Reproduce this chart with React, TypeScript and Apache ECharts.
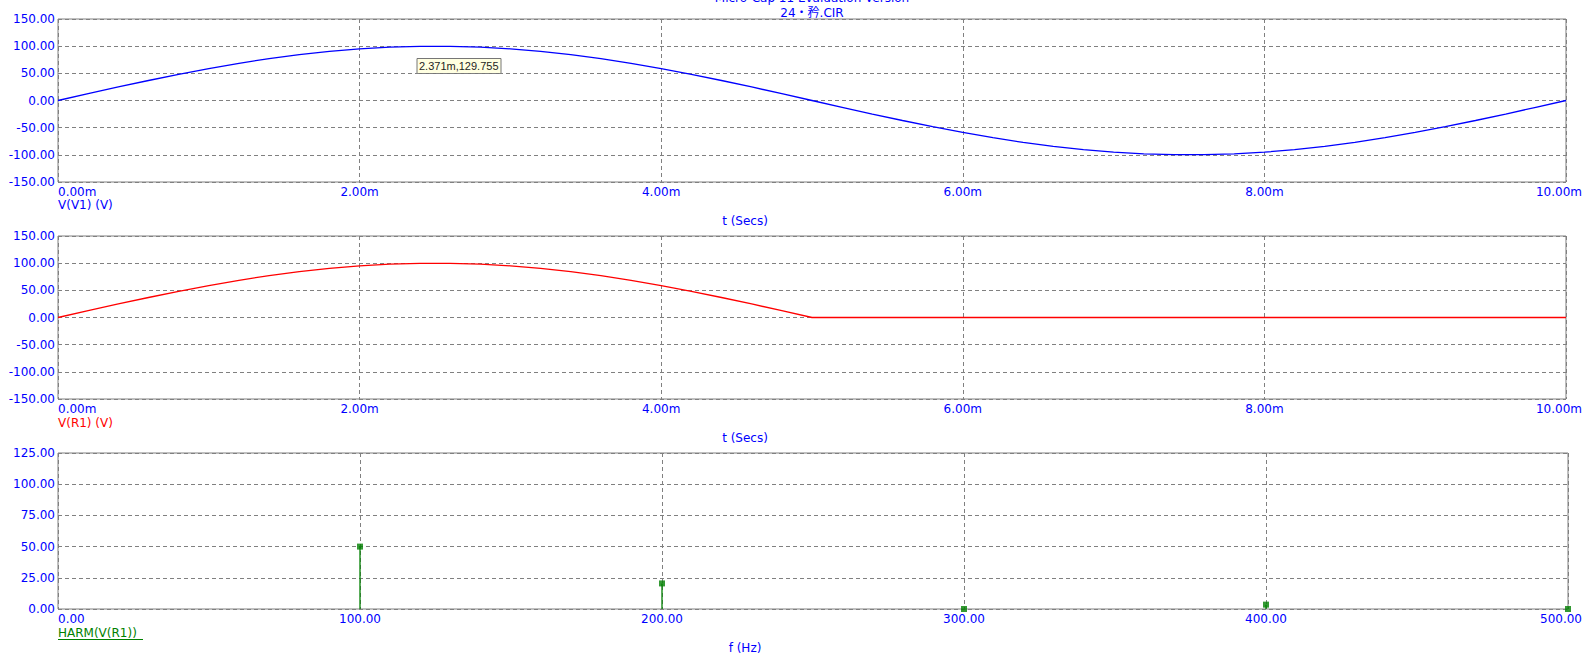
import React, { useEffect, useRef } from "react";
import * as echarts from "echarts";

// Time axis samples (ms)
const tMs = [
  0, 0.2, 0.4, 0.6, 0.8, 1.0, 1.2, 1.4, 1.6, 1.8, 2.0, 2.2, 2.4, 2.6, 2.8, 3.0, 3.2, 3.4, 3.6, 3.8,
  4.0, 4.2, 4.4, 4.6, 4.8, 5.0, 5.2, 5.4, 5.6, 5.8, 6.0, 6.2, 6.4, 6.6, 6.8, 7.0, 7.2, 7.4, 7.6, 7.8,
  8.0, 8.2, 8.4, 8.6, 8.8, 9.0, 9.2, 9.4, 9.6, 9.8, 10.0,
];

// V(V1) (V)
const vV1 = [
  0, 12.5, 24.9, 36.8, 48.2, 58.8, 68.5, 77.1, 84.4, 90.5, 95.1, 98.2, 99.8, 99.8, 98.2, 95.1, 90.5,
  84.4, 77.1, 68.5, 58.8, 48.2, 36.8, 24.9, 12.5, 0, -12.5, -24.9, -36.8, -48.2, -58.8, -68.5, -77.1,
  -84.4, -90.5, -95.1, -98.2, -99.8, -99.8, -98.2, -95.1, -90.5, -84.4, -77.1, -68.5, -58.8, -48.2,
  -36.8, -24.9, -12.5, 0,
];

// V(R1) (V)
const vR1 = [
  0, 12.5, 24.9, 36.8, 48.2, 58.8, 68.5, 77.1, 84.4, 90.5, 95.1, 98.2, 99.8, 99.8, 98.2, 95.1, 90.5,
  84.4, 77.1, 68.5, 58.8, 48.2, 36.8, 24.9, 12.5, 0, 0, 0, 0, 0, 0, 0, 0, 0, 0, 0, 0, 0, 0, 0, 0, 0,
  0, 0, 0, 0, 0, 0, 0, 0, 0,
];

// HARM(V(R1))
const harmFreq = [100, 200, 300, 400, 500];
const harmAmp = [50, 20.5, 0, 3.5, 0];

const timeTicks = { min: 0, max: 10, interval: 2 };
const voltTicks = { min: -150, max: 150, interval: 50 };
const freqTicks = { min: 0, max: 500, interval: 100 };
const harmTicks = { min: 0, max: 125, interval: 25 };

const BLUE = "#0000FF";
const RED = "#FF0000";
const GREEN = "#008000";
const GRAY = "#808080";
const FONT = "DejaVu Sans";

export default function App() {
  const ref = useRef<HTMLDivElement>(null);

  useEffect(() => {
    if (!ref.current) return;
    const chart = echarts.init(ref.current, null, { renderer: "svg" });

    const splitLine = { show: true, lineStyle: { color: GRAY, type: [4, 3] as any, width: 1 } };
    const yLabel = {
      color: BLUE,
      fontFamily: FONT,
      fontSize: 12,
      margin: 3,
      formatter: (v: number) => v.toFixed(2),
    };
    const xLabel = (suffix: string, maxV: number) => ({
      color: BLUE,
      fontFamily: FONT,
      fontSize: 12,
      margin: 4,
      alignMinLabel: "left",
      alignMaxLabel: "center",
      formatter: (v: number) =>
        v === maxV ? `{e|${v.toFixed(2)}${suffix}}` : `${v.toFixed(2)}${suffix}`,
      rich: {
        e: { color: BLUE, fontFamily: FONT, fontSize: 12, padding: [0, 14, 0, 0] },
      },
    });

    const grids = [
      { left: 58, top: 19, width: 1510, height: 163 },
      { left: 58, top: 236, width: 1510, height: 163 },
      { left: 58, top: 453, width: 1510, height: 156 },
    ].map((g) => ({ ...g, show: true, borderColor: GRAY, borderWidth: 1, backgroundColor: "transparent" }));

    const mkX = (gridIndex: number, t: any, suffix: string) => ({
      type: "value",
      gridIndex,
      ...t,
      axisLine: { show: false },
      axisTick: { show: false },
      splitLine,
      axisLabel: xLabel(suffix, t.max),
    });
    const mkY = (gridIndex: number, t: any) => ({
      type: "value",
      gridIndex,
      ...t,
      axisLine: { show: false },
      axisTick: { show: false },
      splitLine,
      axisLabel: yLabel,
    });

    const txt = (text: string, x: number, y: number, fill: string, align = "left") => ({
      type: "text",
      x,
      y,
      silent: true,
      style: {
        text,
        fill,
        font: `12px "${FONT}", "Noto Sans CJK JP"`,
        align,
        verticalAlign: "middle",
      },
    });

    chart.setOption({
      animation: false,
      backgroundColor: "#FFFFFF",
      grid: grids,
      xAxis: [mkX(0, timeTicks, "m"), mkX(1, timeTicks, "m"), mkX(2, freqTicks, "")],
      yAxis: [mkY(0, voltTicks), mkY(1, voltTicks), mkY(2, harmTicks)],
      series: [
        {
          type: "line",
          xAxisIndex: 0,
          yAxisIndex: 0,
          data: tMs.map((t, i) => [t, vV1[i]]),
          showSymbol: false,
          lineStyle: { color: BLUE, width: 1.3 },
          itemStyle: { color: BLUE },
        },
        {
          type: "line",
          xAxisIndex: 1,
          yAxisIndex: 1,
          data: tMs.map((t, i) => [t, vR1[i]]),
          showSymbol: false,
          lineStyle: { color: RED, width: 1.3 },
          itemStyle: { color: RED },
        },
        {
          type: "bar",
          xAxisIndex: 2,
          yAxisIndex: 2,
          data: harmFreq.map((f, i) => [f, harmAmp[i]]),
          barWidth: 1.3,
          itemStyle: { color: GREEN },
        },
        {
          type: "scatter",
          xAxisIndex: 2,
          yAxisIndex: 2,
          data: harmFreq.map((f, i) => [f, harmAmp[i]]),
          symbol: "rect",
          symbolSize: 6,
          itemStyle: { color: GREEN },
        },
      ],
      graphic: [
        txt("Micro-Cap 11 Evaluation Version", 812, -2, BLUE, "center"),
        txt("24・矜.CIR", 812, 12.5, BLUE, "center"),
        txt("V(V1) (V)", 58, 205, BLUE),
        txt("t (Secs)", 745, 221, BLUE, "center"),
        txt("V(R1) (V)", 58, 423, RED),
        txt("t (Secs)", 745, 437.5, BLUE, "center"),
        txt("HARM(V(R1))", 58, 633, GREEN),
        {
          type: "line",
          silent: true,
          shape: { x1: 58, y1: 639.5, x2: 143, y2: 639.5 },
          style: { stroke: GREEN, lineWidth: 1 },
        },
        txt("f (Hz)", 745, 647.5, BLUE, "center"),
        {
          type: "group",
          x: 417,
          y: 58.5,
          children: [
            {
              type: "rect",
              shape: { x: 0, y: 0, width: 84, height: 15 },
              style: { fill: "#FFFFE1", stroke: "#767676", lineWidth: 1 },
            },
            {
              type: "text",
              x: 2,
              y: 7.5,
              style: {
                text: "2.371m,129.755",
                fill: "#1E1E1E",
                font: '11px "Liberation Sans"',
                align: "left",
                verticalAlign: "middle",
              },
            },
          ],
        },
      ],
    });

    return () => chart.dispose();
  }, []);

  return (
    <div
      ref={ref}
      style={{ position: "absolute", left: 0, top: 0, width: 1585, height: 657 }}
    />
  );
}
